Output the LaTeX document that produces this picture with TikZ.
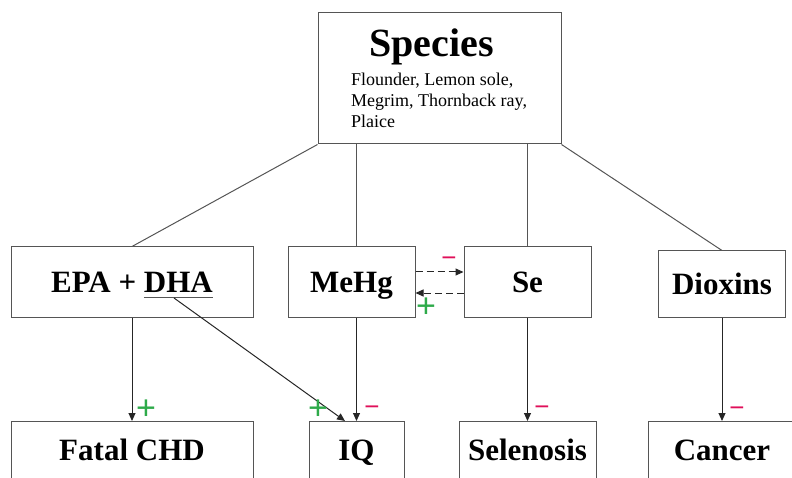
\documentclass[tikz,border=0pt]{standalone}
\usepackage{fontspec}
\setmainfont{Liberation Serif}
\newfontfamily\signfont{Liberation Sans}
\usetikzlibrary{arrows.meta,calc}
\definecolor{minusred}{HTML}{E0105A}
\definecolor{plusgreen}{HTML}{2EAA4A}
\definecolor{edgegray}{HTML}{555555}
\newcommand{\thickul}[1]{\setbox0\hbox{#1}\rlap{\color{edgegray}\rule[-6pt]{\wd0}{1.3pt}}\box0}
\begin{document}
\begin{tikzpicture}[x=1pt,y=-1pt,
  box/.style={draw=edgegray,line width=1pt,rectangle,inner sep=0pt},
  lbl/.style={font=\fontsize{31}{36}\selectfont\bfseries,text height=20.5pt,text depth=0pt},
  blbl/.style={font=\fontsize{31}{36}\selectfont\bfseries,anchor=base,inner sep=0pt},
  conn/.style={draw=edgegray,line width=1pt},
  arr/.style={draw=black!85,line width=1pt,-{Triangle[length=8pt,width=7pt]}},
  dsh/.style={dash pattern=on 7pt off 4pt},
  plus/.style={font=\signfont\fontsize{34}{34}\selectfont,text=plusgreen,inner sep=0pt},
  minus/.style={font=\signfont\fontsize{26}{26}\selectfont,text=minusred,inner sep=0pt},
  sub/.style={font=\fontsize{18}{21}\selectfont,anchor=base west,inner sep=0pt}]
\useasboundingbox (0,0) rectangle (792,478);
\clip (0,0) rectangle (792,478);
% top box
\node[box,minimum width=243pt,minimum height=131pt] (species) at (439.5,78.5) {};
\node[font=\fontsize{40}{44}\selectfont\bfseries,anchor=base,inner sep=0pt] (title) at (431.5,57) {Species};
\node[sub] (sp1) at (351,86) {Flounder, Lemon sole,};
\node[sub] (sp2) at (351,107) {Megrim, Thornback ray,};
\node[sub] (sp3) at (351,128) {Plaice};
% middle row
\node[box,lbl,minimum width=242pt,minimum height=70pt] (epa) at (132,282) {EPA + \thickul{DHA}};
\node[box,lbl,minimum width=127pt,minimum height=70pt] (mehg) at (351.5,282) {MeHg};
\node[box,lbl,minimum width=127pt,minimum height=70pt] (se) at (527.5,282) {Se};
\node[box,lbl,minimum width=127pt,minimum height=66pt] (dioxins) at (722,284) {Dioxins};
% bottom row
\node[box,minimum width=242pt,minimum height=100pt,anchor=north] (fatalbox) at (132,421) {};
\node[box,minimum width=95pt,minimum height=100pt,anchor=north] (iqbox) at (356.5,421) {};
\node[box,minimum width=137pt,minimum height=100pt,anchor=north] (selbox) at (527.5,421) {};
\node[box,minimum width=148pt,minimum height=100pt,anchor=north] (cancerbox) at (722,421) {};
\node[blbl] (fatal) at (132,460) {Fatal CHD};
\node[blbl] (iq) at (356.5,460) {IQ};
\node[blbl] (selenosis) at (527.5,460) {Selenosis};
\node[blbl] (cancer) at (722,460) {Cancer};
% connectors
\draw[conn] (species.south west) -- (epa.north);
\draw[conn] (species.south -| iqbox.north) -- (mehg.north -| iqbox.north);
\draw[conn] (species.south -| se.north) -- (se.north);
\draw[conn] (species.south east) -- (dioxins.north);
\draw[arr] (epa.south) -- (fatalbox.north);
\draw[arr] (mehg.south -| iqbox.north) -- (iqbox.north);
\coordinate (dha) at (174,298);
\coordinate (iqin) at ($(iqbox.north west)!0.38!(iqbox.north east)$);
\draw[arr] (dha) -- (iqin);
\draw[arr] (se.south) -- (selbox.north);
\draw[arr] (dioxins.south) -- (cancerbox.north);
\draw[arr,dsh] ($(mehg.east)+(0,-10)$) -- ($(se.west)+(0,-10)$);
\draw[arr,dsh] ($(se.west)+(0,11)$) -- ($(mehg.east)+(0,11)$);
% signs
\node[minus] (m1) at (449,262) {−};
\node[plus] (p1) at (426,308) {+};
\node[plus] (p2) at (146,410) {+};
\node[plus] (p3) at (318,410) {+};
\node[minus] (m2) at (372,411) {−};
\node[minus] (m3) at (542,411) {−};
\node[minus] (m4) at (737,412) {−};
\end{tikzpicture}
\end{document}
